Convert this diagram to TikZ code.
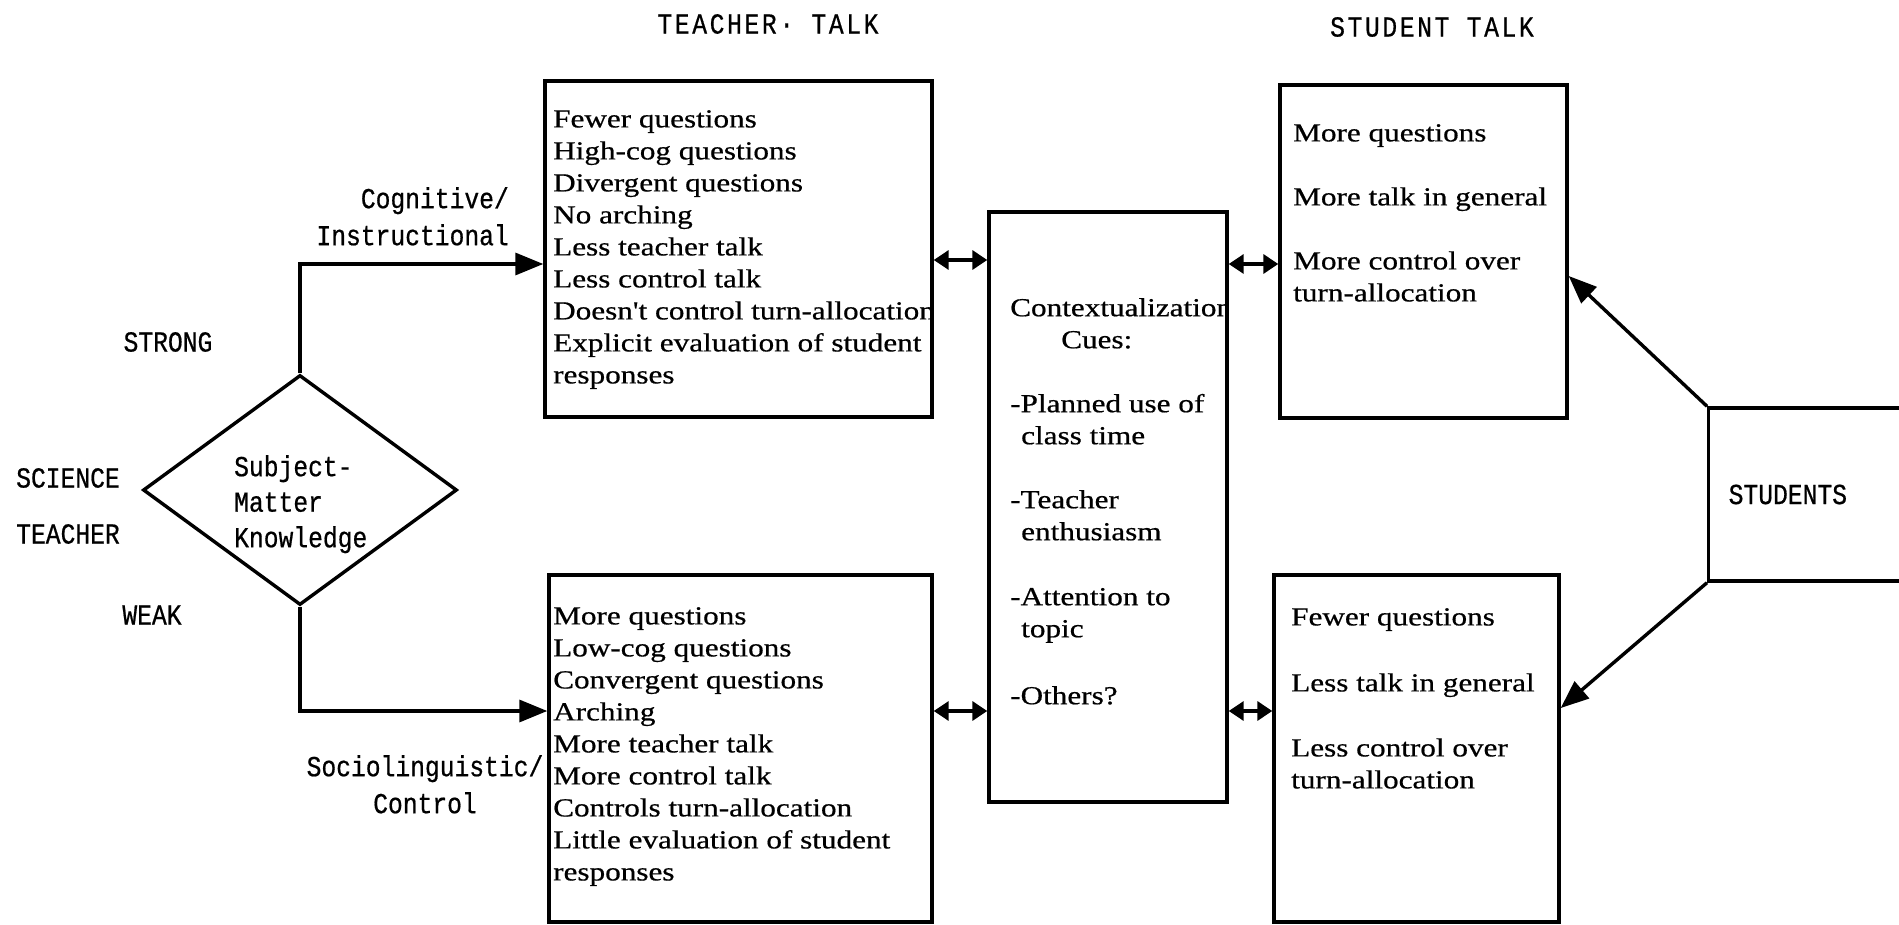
\documentclass[tikz,border=0pt]{standalone}
\usepackage{fontspec}
\setmainfont{Liberation Serif}
\newfontfamily\labfont{Liberation Mono}[FakeStretch=0.85,FakeBold=0.6]
\newfontfamily\titfont{Liberation Mono}[FakeStretch=0.85,FakeBold=0.6,LetterSpace=9]
\newfontfamily\boxfont{Liberation Serif}[FakeStretch=1.2,FakeBold=0.6]
\usetikzlibrary{shapes.geometric,arrows.meta}
\begin{document}
\begin{tikzpicture}[x=1pt,y=-1pt,
  box/.style={draw,line width=3.4pt,inner sep=0pt},
  tx/.style={inner sep=0pt,anchor=north west,align=left,font=\boxfont\fontsize{26}{32}\selectfont},
  lab/.style={inner sep=0pt,font=\labfont\fontsize{29}{37}\selectfont},
  tit/.style={inner sep=0pt,font=\titfont\fontsize{29}{30}\selectfont},
  conn/.style={line width=3.4pt,-{Triangle[length=28pt,width=22pt]}},
  darr/.style={line width=3.4pt,{Triangle[length=15pt,width=19pt]}-{Triangle[length=15pt,width=19pt]}}]
\useasboundingbox (0,0) rectangle (1899,925);
\clip (0,0) rectangle (1899,925);
\fill[white] (0,0) rectangle (1899,925);

% boxes
\node[box,minimum width=387pt,minimum height=336pt] (tt) at (738.5,249) {};
\node[box,minimum width=383pt,minimum height=347pt] (tb) at (740.5,748.5) {};
\node[box,minimum width=238pt,minimum height=590pt] (cc) at (1108,507) {};
\node[box,minimum width=287pt,minimum height=333pt] (st) at (1423.5,251.5) {};
\node[box,minimum width=285pt,minimum height=347pt] (sb) at (1416.5,748.5) {};
\node[box,anchor=west,minimum height=173pt,text width=210pt,inner xsep=20pt,align=left,font=\labfont\fontsize{29}{30}\selectfont] (su) at (1707,494.5) {STUDENTS};
\node[draw,line width=3.4pt,shape=diamond,inner sep=0pt,minimum width=314pt,minimum height=230pt,aspect=1.37] (sm) at (300,490) {};
\node[lab,anchor=north west,align=left,font=\labfont\fontsize{29}{35.5}\selectfont] (smx) at (234,455) {Subject-\\Matter\\Knowledge};

% titles
\node[tit] (t1) at (768,24) {TEACHER· TALK};
\node[tit] (t2) at (1432,27) {STUDENT TALK};

% side labels
\node[lab,anchor=north east,align=right] (ci) at (509,187) {Cognitive/\\Instructional};
\node[lab] (strong) at (168,342) {STRONG};
\node[lab] (sci) at (68,478) {SCIENCE};
\node[lab] (tea) at (68,534) {TEACHER};
\node[lab] (weak) at (152,615) {WEAK};
\node[lab,anchor=north,align=center] (sc) at (425,755) {Sociolinguistic/\\Control};

% box texts
\begin{scope}
\clip (tt.north west) rectangle (tt.south east);
\node[tx] (ttx) at (553,110) {Fewer questions\\High-cog questions\\Divergent questions\\No arching\\Less teacher talk\\Less control talk\\Doesn't control turn-allocation\\Explicit evaluation of student\\responses};
\end{scope}
\node[tx] (tbx) at (553,607) {More questions\\Low-cog questions\\Convergent questions\\Arching\\More teacher talk\\More control talk\\Controls turn-allocation\\Little evaluation of student\\responses};
\begin{scope}
\clip (cc.north west) rectangle (cc.south east);
\node[tx] (ccx) at (1010,298) {Contextualization\\\hspace*{51pt}Cues:\\[32pt]-Planned use of\\\hspace*{11pt}class time\\[32pt]-Teacher\\\hspace*{11pt}enthusiasm\\[33pt]-Attention to\\\hspace*{11pt}topic\\[35pt]-Others?};
\end{scope}
\node[tx] (stx) at (1293,124) {More questions\\[32pt]More talk in general\\[32pt]More control over\\turn-allocation};
\node[tx] (sbx) at (1291,608) {Fewer questions\\[34pt]Less talk in general\\[33pt]Less control over\\turn-allocation};

% connectors
\draw[conn] (sm.north) |- ([yshift=-15pt]tt.west);
\draw[conn] (sm.south) |- ([yshift=37.5pt]tb.west);
\draw[darr] (tt.east |- 0,260) -- (cc.west |- 0,260);
\draw[darr] (cc.east |- 0,264) -- (st.west |- 0,264);
\draw[darr] (tb.east |- 0,711) -- (cc.west |- 0,711);
\draw[darr] (cc.east |- 0,711) -- (sb.west |- 0,711);
\draw[conn] (su.north west) -- (st.east |- 0,276);
\draw[conn] (su.south west) -- (sb.east |- 0,708);
\end{tikzpicture}
\end{document}
